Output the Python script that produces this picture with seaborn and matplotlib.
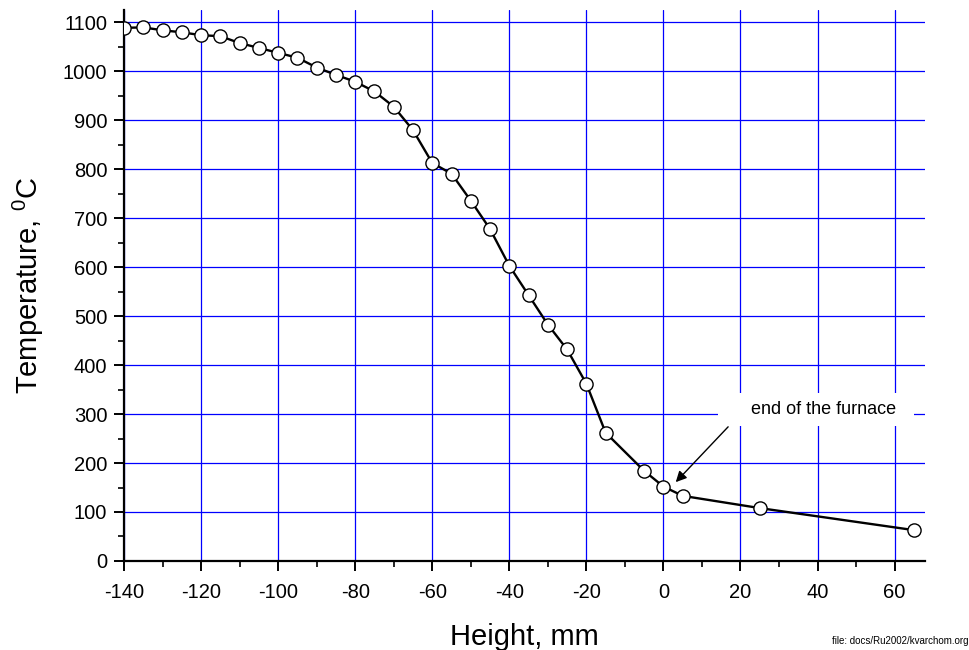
import matplotlib
matplotlib.use("Agg")
import matplotlib.pyplot as plt
import seaborn as sns
import pandas as pd
from matplotlib.ticker import MultipleLocator

# Data
height_mm = [-140, -135, -130, -125, -120, -115, -110, -105, -100, -95,
             -90, -85, -80, -75, -70, -65, -60, -55, -50, -45,
             -40, -35, -30, -25, -20, -15, -5, 0, 5, 25, 65]
temperature_c = [1089, 1090, 1084, 1080, 1074, 1072, 1058, 1048, 1038, 1028,
                 1008, 993, 979, 959, 928, 880, 813, 791, 736, 678,
                 603, 543, 483, 432, 362, 262, 184, 152, 133, 108, 63]

x_ticks = [-140, -120, -100, -80, -60, -40, -20, 0, 20, 40, 60]
y_ticks = [0, 100, 200, 300, 400, 500, 600, 700, 800, 900, 1000, 1100]

annotation_text = "end of the furnace"
x_label = "Height, mm"
y_label = r"Temperature, $^{\mathrm{0}}$C"
footer = "file: docs/Ru2002/kvarchom.org"

df = pd.DataFrame({"Height": height_mm, "Temperature": temperature_c})

sns.set_style("white")
plt.rcParams["font.family"] = ["Liberation Sans", "DejaVu Sans"]
plt.rcParams["mathtext.fontset"] = "custom"
plt.rcParams["mathtext.rm"] = "Liberation Sans"
plt.rcParams["mathtext.it"] = "Liberation Sans:italic"
plt.rcParams["mathtext.bf"] = "Liberation Sans:bold"
plt.rcParams["axes.unicode_minus"] = False
plt.rcParams["text.color"] = "black"
plt.rcParams["axes.labelcolor"] = "black"
plt.rcParams["xtick.color"] = "black"
plt.rcParams["ytick.color"] = "black"

fig = plt.figure(figsize=(9.69, 6.5), dpi=100)
ax = fig.add_axes([0.128, 0.137, 0.827, 0.848])

sns.lineplot(data=df, x="Height", y="Temperature", ax=ax, color="black",
             linewidth=1.7, marker="o", markersize=9.5,
             markerfacecolor="white", markeredgecolor="black",
             markeredgewidth=1.0, zorder=3)

ax.set_xlim(-140, 68)
ax.set_ylim(0, 1126)
ax.set_xticks(x_ticks)
ax.set_yticks(y_ticks)
ax.xaxis.set_minor_locator(MultipleLocator(10))
ax.yaxis.set_minor_locator(MultipleLocator(50))

ax.grid(True, which="major", color="#0000ff", linewidth=0.9)
ax.set_axisbelow(True)

for side in ["top", "right"]:
    ax.spines[side].set_visible(False)
for side in ["left", "bottom"]:
    ax.spines[side].set_color("black")
    ax.spines[side].set_linewidth(1.6)

ax.tick_params(which="major", direction="out", length=7, width=1.4,
               color="black", labelcolor="black", labelsize=14.5, pad=5,
               bottom=True, left=True)
ax.tick_params(which="minor", direction="out", length=4, width=1.2,
               color="black", bottom=True, left=True)
ax.tick_params(axis="x", which="major", pad=9)

ax.set_xlabel(x_label, fontsize=21, labelpad=15, color="black")
ax.set_ylabel(y_label, fontsize=21, labelpad=12, color="black")

# annotation arrow and boxed label
ax.annotate("", xy=(3.2, 161), xytext=(16.8, 274),
            arrowprops=dict(arrowstyle="-|>", color="black", lw=1.0,
                            mutation_scale=16, shrinkA=0, shrinkB=0),
            zorder=4)
ax.text(39.6, 310, "     " + annotation_text + "  ", ha="center", va="center",
        fontsize=13, color="black", zorder=5,
        bbox=dict(boxstyle="square,pad=0.45", fc="white", ec="none"))

fig.text(0.999, 0.006, footer, ha="right", va="bottom", fontsize=7,
         color="black")

fig.savefig("out.png", dpi=100)
